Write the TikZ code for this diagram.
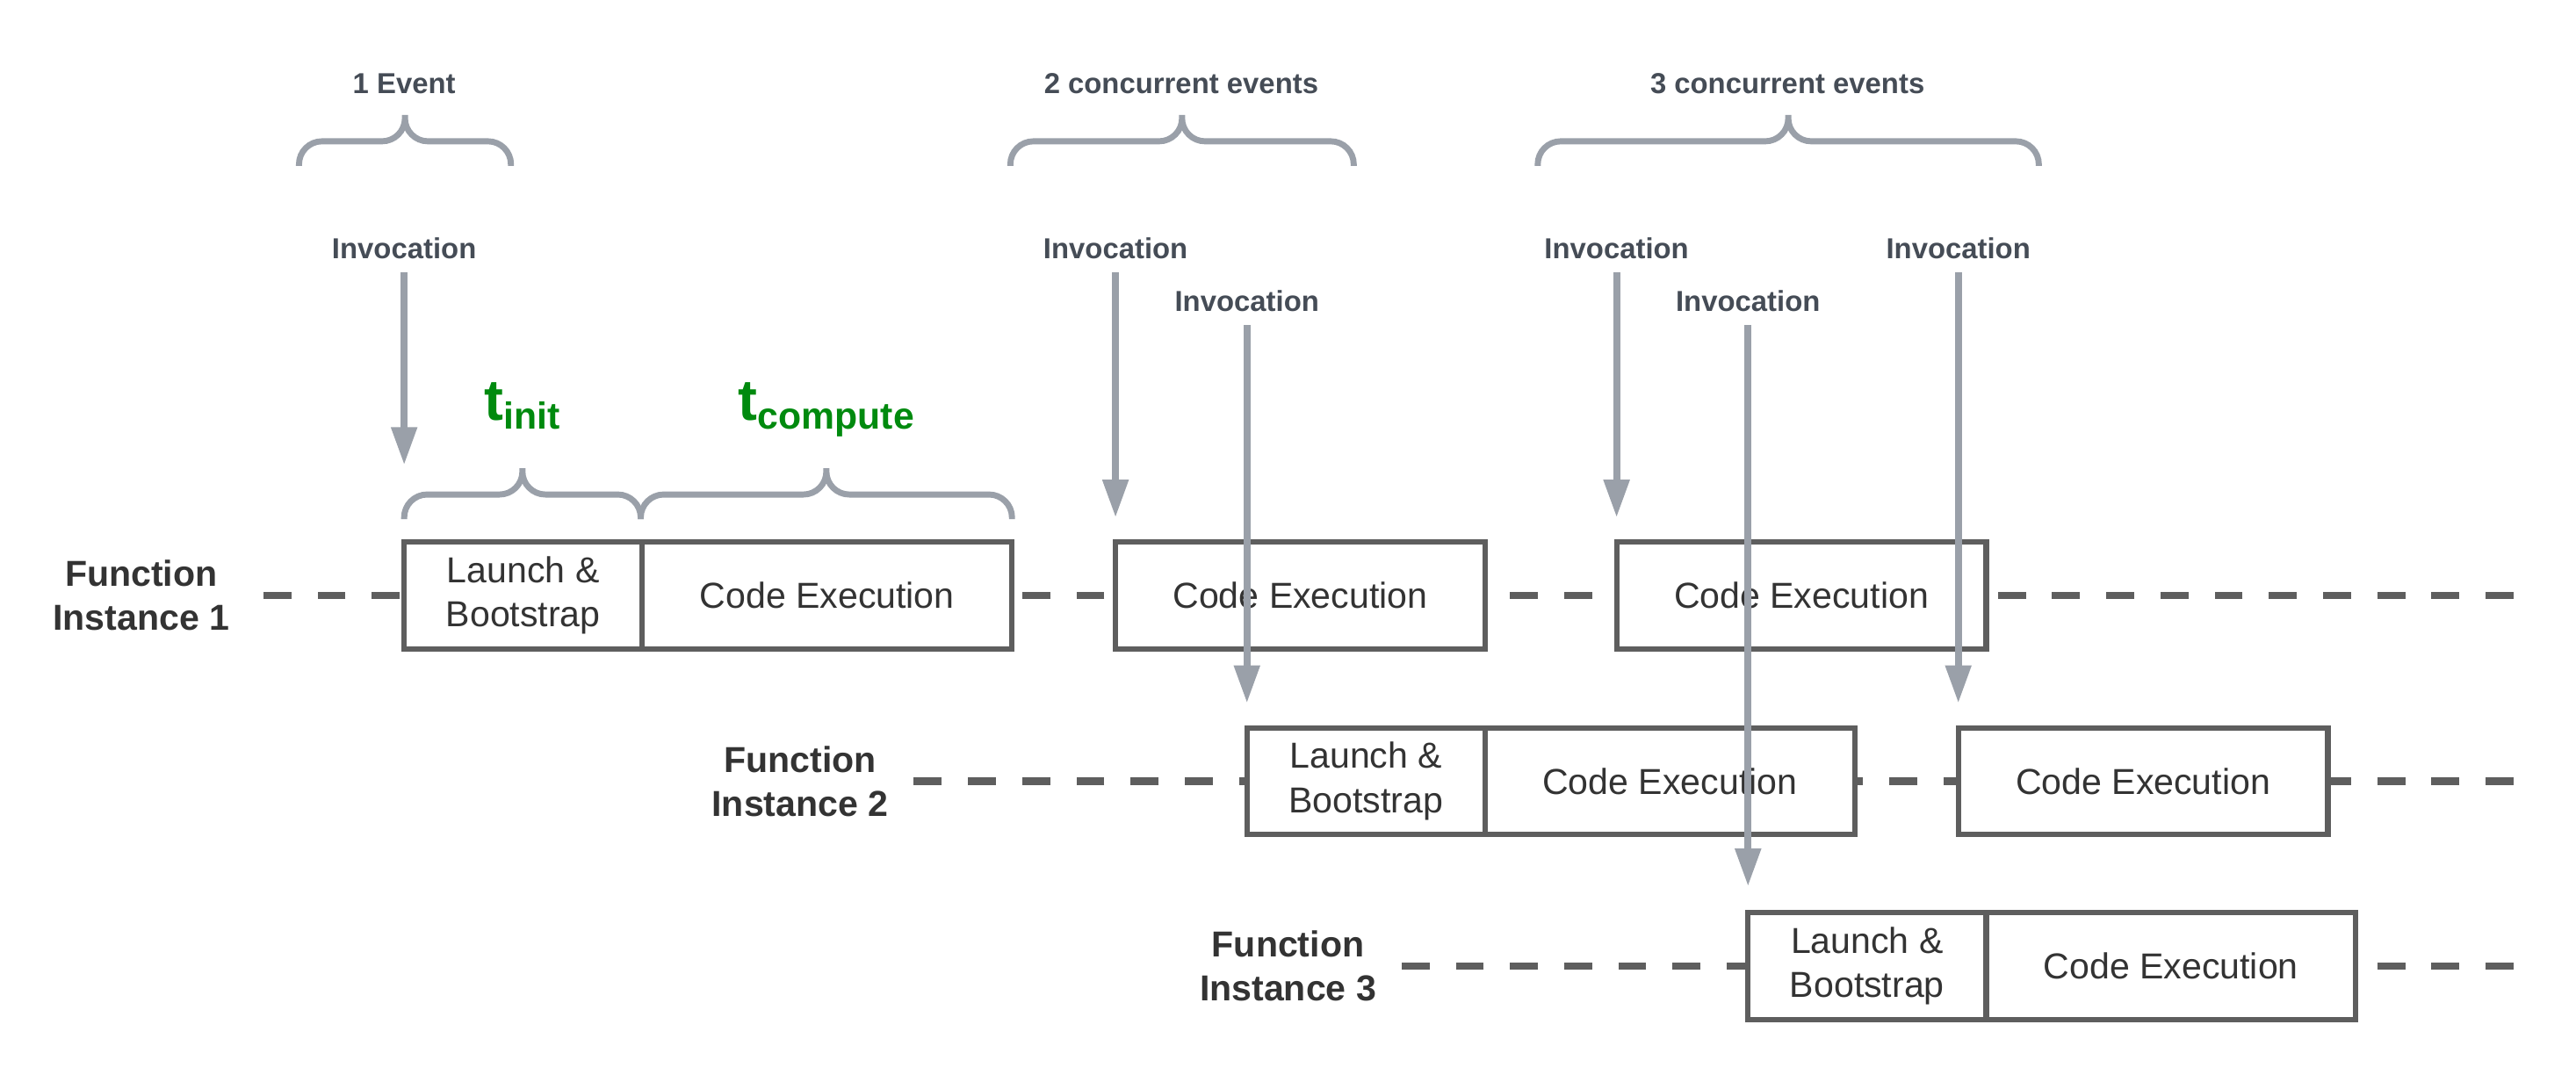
\documentclass[tikz,border=0pt]{standalone}
\usepackage{fontspec}
\setmainfont{Liberation Sans}
\usetikzlibrary{arrows.meta,positioning}

\definecolor{arrowgray}{RGB}{154,160,169}
\definecolor{labelgray}{RGB}{69,76,86}
\definecolor{boxgray}{RGB}{94,94,94}
\definecolor{textgray}{RGB}{51,51,51}
\definecolor{timegreen}{RGB}{0,138,14}

\newcommand{\tsub}[1]{{\fontsize{20}{24}\selectfont t}\raisebox{-0.1cm}{\fontsize{13}{15}\selectfont #1}}

\begin{document}
\begin{tikzpicture}[x=0.02cm,y=-0.02cm,
    phase/.style={draw=boxgray,fill=white,line width=1.9pt,outer sep=0pt,minimum height=1.3cm,
      align=center,text=textgray,font=\fontsize{12.5}{15.3}\selectfont},
    launch/.style={phase,minimum width=2.9cm},
    compute/.style={phase,minimum width=4.5cm},
    instance/.style={align=center,text=textgray,font=\fontsize{12.5}{15.3}\selectfont\bfseries},
    invlabel/.style={text=labelgray,font=\fontsize{10}{12}\selectfont\bfseries,inner sep=0pt},
    timeline/.style={draw=boxgray,line width=2.6pt,dash pattern=on 0.34cm off 0.32cm},
    invoke/.style={draw=arrowgray,line width=2.4pt,-{Triangle[length=0.46cm,width=0.3cm]},shorten <=0.16cm},
    curly/.style={draw=arrowgray,line width=2.1pt,rounded corners=0.28cm},
    timelabel/.style={text=timegreen,font=\bfseries,anchor=base}]
  \useasboundingbox (0,0) rectangle (1568,654);

  % instances and their time lines
  \node[instance] (fi1) at (86,362.5) {Function\\Instance 1};
  \node[instance] (fi2) at (487,475.5) {Function\\Instance 2};
  \node[instance] (fi3) at (784,588) {Function\\Instance 3};
  \coordinate (end1) at (1530,362.5);
  \coordinate (end2) at (1530,475.5);
  \coordinate (end3) at (1530,588);
  \draw[timeline] (end1) -- (fi1.east);
  \draw[timeline] (end2) -- (fi2.east);
  \draw[timeline] (end3) -- (fi3.east);

  % phases
  \node[launch,anchor=west] (lb1) at (246,362.5) {Launch \&\\Bootstrap};
  \node[compute,right=0pt of lb1] (ce1a) {Code Execution};
  \node[compute,anchor=west] (ce1b) at (679,362.5) {Code Execution};
  \node[compute,anchor=west] (ce1c) at (984,362.5) {Code Execution};

  \node[launch,anchor=west] (lb2) at (759,475.5) {Launch \&\\Bootstrap};
  \node[compute,right=0pt of lb2] (ce2a) {Code Execution};
  \node[compute,anchor=west] (ce2b) at (1192,475.5) {Code Execution};

  \node[launch,anchor=west] (lb3) at (1064,588) {Launch \&\\Bootstrap};
  \node[compute,right=0pt of lb3] (ce3a) {Code Execution};

  % braces
  \foreach \xa/\xb/\yb in {182/311/101, 615/824/101, 936/1241/101, 246/390/316, 390/616/316}
    \draw[curly] (\xa,\yb) |- ({(\xa+\xb)/2},\yb-15) -- ({(\xa+\xb)/2},\yb-31)
                 (\xb,\yb) |- ({(\xa+\xb)/2},\yb-15) -- ({(\xa+\xb)/2},\yb-31);

  \node[invlabel] (ev1) at (246,51) {1 Event};
  \node[invlabel] (ev2) at (719,51) {2 concurrent events};
  \node[invlabel] (ev3) at (1088,51) {3 concurrent events};
  \node[timelabel] (tinit) at (318,256) {\tsub{init}};
  \node[timelabel] (tcomp) at (503,256) {\tsub{compute}};

  % invocations
  \node[invlabel] (inv1) at (246,151) {Invocation};
  \node[invlabel] (inv2) at (679,151) {Invocation};
  \node[invlabel] (inv3) at (759,183) {Invocation};
  \node[invlabel] (inv4) at (984,151) {Invocation};
  \node[invlabel] (inv5) at (1064,183) {Invocation};
  \node[invlabel] (inv6) at (1192,151) {Invocation};
  \foreach \lab/\tgt/\cut in {inv1/lb1/0.94cm, inv2/ce1b/0.3cm, inv3/lb2/0.3cm,
                              inv4/ce1c/0.3cm, inv5/lb3/0.32cm, inv6/ce2b/0.3cm}
    \draw[invoke,shorten >=\cut] (\lab.south) -- (\lab.south |- \tgt.north west);
\end{tikzpicture}
\end{document}
